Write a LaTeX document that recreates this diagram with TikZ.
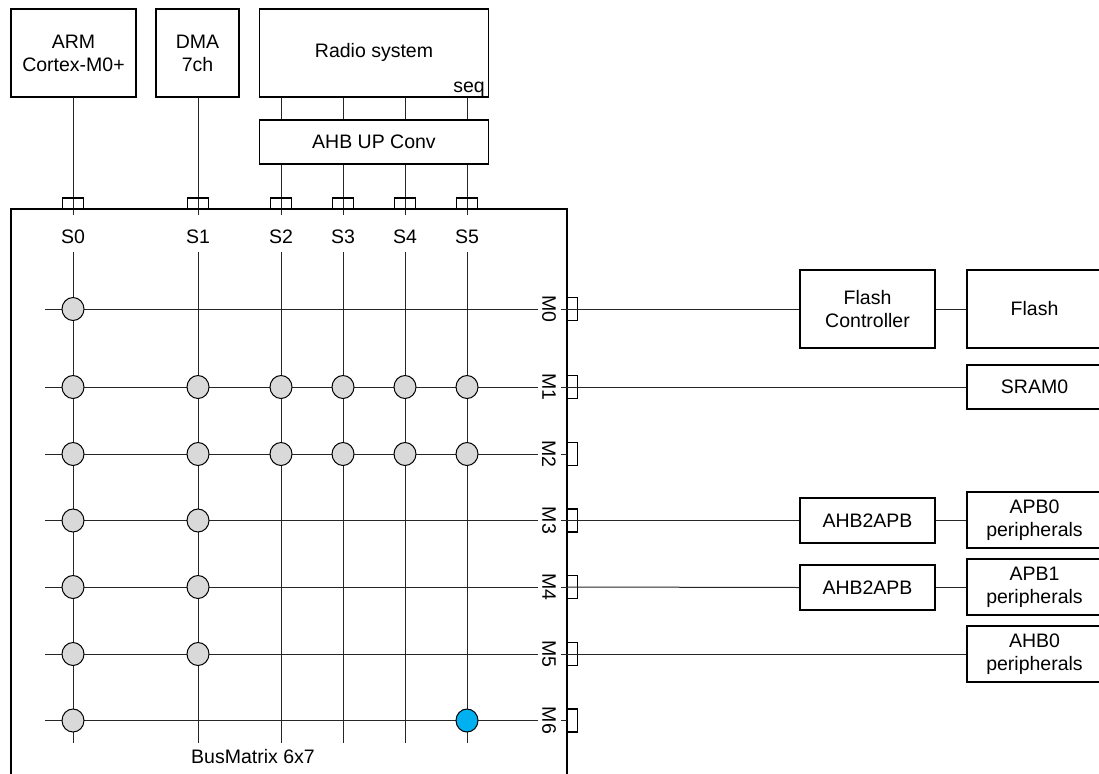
\documentclass[tikz,border=0pt]{standalone}
\usepackage{fontspec}
\setmainfont{Liberation Sans}
\usetikzlibrary{shapes.geometric}
\definecolor{xgray}{HTML}{D9D9D9}
\definecolor{xblue}{HTML}{00B0F0}
\tikzset{
  box/.style={draw, line width=1.5pt, align=center, inner sep=0pt,
    font=\fontsize{19.5}{23}\selectfont},
  port/.style={draw, line width=1.4pt, inner sep=0pt},
  sport/.style={port, minimum width=21pt, minimum height=11pt},
  mport/.style={port, minimum width=10pt, minimum height=23pt},
  wire/.style={line width=1pt, black!85},
  xnode/.style={ellipse, draw, line width=1pt, fill=xgray, minimum width=22pt, minimum height=23pt, inner sep=0pt},
  bnode/.style={xnode, fill=xblue},
  lab/.style={font=\fontsize{19.5}{23}\selectfont, inner sep=0pt},
  mlab/.style={lab, rotate=-90},
}
\begin{document}
\begin{tikzpicture}[x=1pt, y=-1pt]
\useasboundingbox (0,0) rectangle (1099,773);
\clip (0,0) rectangle (1099,773);
% masters
\node[box, minimum width=125pt, minimum height=88pt] (arm) at (73.5,53) {ARM\\Cortex-M0+};
\node[box, minimum width=83pt, minimum height=88pt] (dma) at (197.5,53) {DMA\\7ch};
\node[box, minimum width=229pt, minimum height=88pt] (radio) at (374,53) {};
\node[lab] (radiot) at (374,52) {Radio system};
\node[lab, anchor=base east] (seq) at (485,93) {seq};
\node[box, minimum width=229pt, minimum height=44pt] (conv) at (374,142) {AHB UP Conv};
% bus matrix frame
\coordinate (bmtl) at (11,209);
\coordinate (bmtr) at (567,209);
\coordinate (bmbl) at (11,790);
\coordinate (bmbr) at (567,790);
\draw[line width=1.5pt] (bmbl) -- (bmtl) -- (bmtr) -- (bmbr);
\node[lab] (bmlabel) at (253,757) {BusMatrix 6x7};
% columns
\foreach \i/\x in {0/73,1/198,2/281,3/343,4/405,5/467}{
  \coordinate (ct\i) at (\x,215);
  \coordinate (cb\i) at (\x,252);
  \coordinate (ce\i) at (\x,743);
  \node[lab] (S\i) at (\x,237) {S\i};
}
\draw[wire] (arm.south -| ct0) -- (ct0);
\draw[wire] (dma.south -| ct1) -- (ct1);
\foreach \i in {2,3,4,5}{
  \draw[wire] (radio.south -| ct\i) -- (conv.north -| ct\i);
  \draw[wire] (conv.south -| ct\i) -- (ct\i);
}
\foreach \i in {0,...,5}{
  \draw[wire] (cb\i) -- (ce\i);
  \node[sport] (sp\i) at (ct\i |- 0,203.5) {};
}
% rows
\foreach \j/\y in {0/309,1/387,2/454,3/520.5,4/587,5/654,6/720.5}{
  \coordinate (rl\j) at (45,\y);
  \coordinate (rm\j) at (538,\y);
  \coordinate (rr\j) at (561,\y);
  \node[mlab] (M\j) at (549,\y) {M\j};
  \node[mport] (mp\j) at (572.5,\y) {};
  \draw[wire] (rl\j) -- (rm\j);
  \draw[wire] (rr\j) -- (mp\j.west);
}
% slaves
\node[box, minimum width=135pt, minimum height=78pt] (fc) at (867.5,309) {Flash\\Controller};
\node[box, minimum width=135pt, minimum height=78pt] (flash) at (1034.5,309) {Flash};
\node[box, minimum width=135pt, minimum height=44pt] (sram) at (1034.5,387) {SRAM0};
\node[box, minimum width=135pt, minimum height=45pt] (bridge0) at (867.5,520.5) {AHB2APB};
\node[box, minimum width=135pt, minimum height=56pt] (apb0) at (1034.5,520) {APB0\\peripherals};
\node[box, minimum width=135pt, minimum height=45pt] (bridge1) at (867.5,587.5) {AHB2APB};
\node[box, minimum width=135pt, minimum height=56pt] (apb1) at (1034.5,587) {APB1\\peripherals};
\node[box, minimum width=135pt, minimum height=56pt] (ahb0) at (1034.5,654) {AHB0\\peripherals};
\draw[wire] (mp0.west) -- (fc.west);
\draw[wire] (fc.east) -- (flash.west);
\draw[wire] (mp1.west) -- (sram.west);
\draw[wire] (mp3.west) -- (bridge0.west);
\draw[wire] (bridge0.east) -- (apb0.west |- bridge0.east);
\draw[wire] (mp4.west) -- (bridge1.west);
\draw[wire] (bridge1.east) -- (apb1.west |- bridge1.east);
\draw[wire] (mp5.west) -- (ahb0.west);
% crosspoints
\foreach \c/\r in {0/0, 0/1,1/1,2/1,3/1,4/1,5/1, 0/2,1/2,2/2,3/2,4/2,5/2, 0/3,1/3, 0/4,1/4, 0/5,1/5, 0/6}{
  \node[xnode] (x\c\r) at (cb\c |- rl\r) {};
}
\node[bnode] (x56) at (cb5 |- rl6) {};
\end{tikzpicture}
\end{document}
